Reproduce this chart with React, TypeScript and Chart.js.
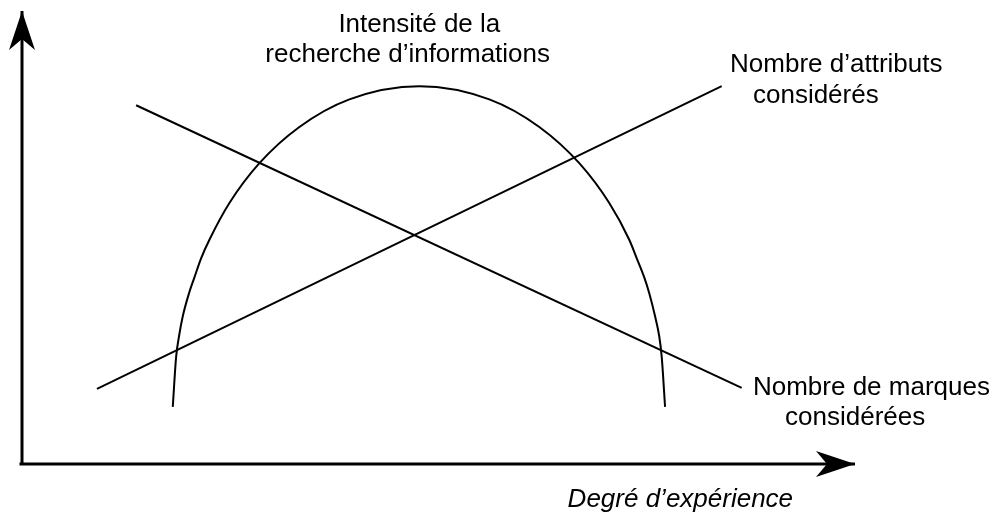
import React, { useEffect, useRef } from "react";
import { Chart, registerables } from "chart.js";

Chart.register(...registerables);

// ---- Data (conceptual units, 0..100 on both axes) ----
const curveX = [18.1, 18.5, 18.85, 19.3, 20.05, 20.7, 21.5, 22.5, 24.9, 28.5, 33.3, 39.3, 47.7, 56.1, 62.1, 66.9, 70.5, 72.9, 73.8, 74.7, 75.3, 76.0, 76.5, 76.8, 77.2];
const curveY = [12.6, 23.6, 28.2, 32.6, 37.7, 41.2, 45.4, 49.5, 57.6, 66.4, 74.4, 80.5, 83.4, 80.5, 74.4, 66.4, 57.6, 49.5, 45.4, 41.2, 37.7, 32.6, 28.2, 23.6, 12.6];

const marquesX = [13.7, 86.4];
const marquesY = [79.2, 16.8];

const attributsX = [9.0, 84.0];
const attributsY = [16.6, 83.4];

const xAxisX = [-0.3, 100];
const xAxisY = [0, 0];
const yAxisX = [0, 0];
const yAxisY = [0, 100];

const curveLabel = ["Intensité de la", "recherche d\u2019informations"];
const attributsLabel = ["Nombre d\u2019attributs", "considérés"];
const marquesLabel = ["Nombre de marques", "considérées"];
const xAxisLabel = "Degré d\u2019expérience";

// annotation anchors (data units)
const curveLabelPos = [[47.7, 95.4], [46.3, 88.8]];
const attributsLabelPos = [[85.0, 86.5], [87.75, 79.7]];
const marquesLabelPos = [[87.75, 15.2], [91.6, 8.6]];
const xAxisLabelPos = [65.5, -9.5];

const pts = (xs: number[], ys: number[]) => xs.map((x, i) => ({ x, y: ys[i] }));

const arrowPlugin = {
  id: "arrowsAndLabels",
  afterDatasetsDraw(chart: any) {
    const { ctx, scales } = chart;
    const sx = scales.x, sy = scales.y;
    const px = (v: number) => sx.getPixelForValue(v);
    const py = (v: number) => sy.getPixelForValue(v);
    ctx.save();
    ctx.fillStyle = "#000";
    const drawArrow = (x0: number, y0: number, x1: number, y1: number) => {
      const ang = Math.atan2(y1 - y0, x1 - x0);
      const len = 39, half = 13, notch = 28;
      ctx.save();
      ctx.translate(x1, y1);
      ctx.rotate(ang);
      ctx.beginPath();
      ctx.moveTo(0, 0);
      ctx.lineTo(-len, -half);
      ctx.lineTo(-notch, 0);
      ctx.lineTo(-len, half);
      ctx.closePath();
      ctx.fill();
      ctx.restore();
    };
    drawArrow(px(xAxisX[0]), py(xAxisY[0]), px(xAxisX[1]), py(xAxisY[1]));
    drawArrow(px(yAxisX[0]), py(yAxisY[0]), px(yAxisX[1]), py(yAxisY[1]));

    ctx.fillStyle = "#000";
    ctx.textBaseline = "alphabetic";
    ctx.font = "26px 'Liberation Sans', Arial, sans-serif";
    ctx.textAlign = "center";
    curveLabel.forEach((t, i) => ctx.fillText(t, px(curveLabelPos[i][0]), py(curveLabelPos[i][1])));
    ctx.textAlign = "left";
    attributsLabel.forEach((t, i) => ctx.fillText(t, px(attributsLabelPos[i][0]), py(attributsLabelPos[i][1])));
    marquesLabel.forEach((t, i) => ctx.fillText(t, px(marquesLabelPos[i][0]), py(marquesLabelPos[i][1])));
    ctx.font = "italic 26px 'Liberation Sans', Arial, sans-serif";
    ctx.fillText(xAxisLabel, px(xAxisLabelPos[0]), py(xAxisLabelPos[1]));
    ctx.restore();
  },
};

export default function App() {
  const ref = useRef<HTMLCanvasElement | null>(null);
  useEffect(() => {
    if (!ref.current) return;
    const base = { borderColor: "#000", pointRadius: 0, fill: false, clip: false as any, showLine: true };
    const chart = new Chart(ref.current, {
      type: "scatter",
      data: {
        datasets: [
          { ...base, label: "axe x", data: pts(xAxisX, xAxisY), borderWidth: 3 },
          { ...base, label: "axe y", data: pts(yAxisX, yAxisY), borderWidth: 3 },
          { ...base, label: "Intensité de la recherche d'informations", data: pts(curveX, curveY), borderWidth: 2, cubicInterpolationMode: "monotone" as any },
          { ...base, label: "Nombre de marques considérées", data: pts(marquesX, marquesY), borderWidth: 2 },
          { ...base, label: "Nombre d'attributs considérés", data: pts(attributsX, attributsY), borderWidth: 2 },
        ],
      },
      options: {
        animation: false,
        responsive: false,
        events: [],
        layout: { padding: { left: 22, right: 144, top: 11, bottom: 50 } },
        plugins: { legend: { display: false }, tooltip: { enabled: false }, title: { display: false } },
        scales: {
          x: { type: "linear", min: 0, max: 100, display: false },
          y: { type: "linear", min: 0, max: 100, display: false },
        },
      },
      plugins: [arrowPlugin],
    });
    return () => chart.destroy();
  }, []);
  return (
    <div style={{ position: "absolute", left: 0, top: 0, width: 999, height: 514, background: "#fff" }}>
      <canvas ref={ref} width={999} height={514} style={{ display: "block" }} />
    </div>
  );
}
